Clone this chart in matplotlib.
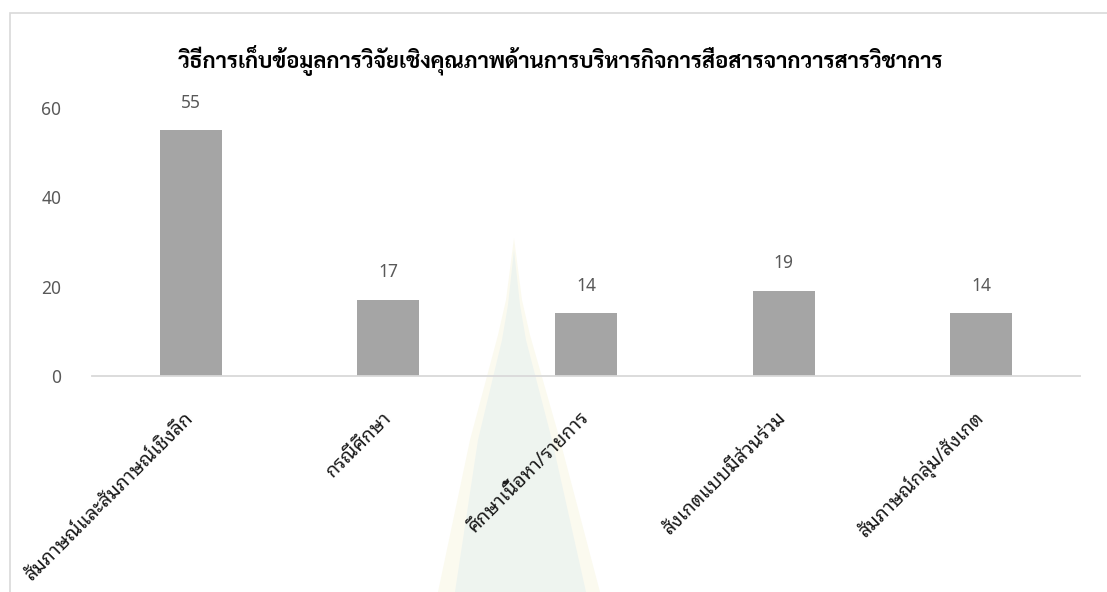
import numpy as np
import matplotlib
matplotlib.use("Agg")
import matplotlib.pyplot as plt
from matplotlib.patches import Polygon, Rectangle

categories = ["สัมภาษณ์และสัมภาษณ์เชิงลึก", "กรณีศึกษา", "ศึกษาเนื้อหา/รายการ",
              "สังเกตแบบมีส่วนร่วม", "สัมภาษณ์กลุ่ม/สังเกต"]
counts = [55, 17, 14, 19, 14]
yticks = [0, 20, 40, 60]
title = "วิธีการเก็บข้อมูลการวิจัยเชิงคุณภาพด้านการบริหารกิจการสื่อสารจากวารสารวิชาการ"

plt.rcParams["font.family"] = ["Noto Sans Thai Looped", "DejaVu Sans"]

W, H = 1107, 592
fig = plt.figure(figsize=(W / 100, H / 100), dpi=100)


def px(x0, y0):
    # pixel position from the top-left corner -> figure fraction
    return x0 / W, 1 - y0 / H


# faint spire watermark behind the chart
outer = [(514, 238), (522, 300), (530, 335), (560, 440), (600, 592), (438, 592), (470, 440), (498, 335), (506, 300)]
inner = [(514, 250), (520, 305), (526, 340), (552, 440), (586, 592), (455, 592), (478, 440), (502, 340), (508, 305)]
fig.patches.append(Polygon([px(*p) for p in outer], closed=True, transform=fig.transFigure,
                           facecolor="#fbfaef", edgecolor="none", zorder=-2))
fig.patches.append(Polygon([px(*p) for p in inner], closed=True, transform=fig.transFigure,
                           facecolor="#eef4ef", edgecolor="none", zorder=-2))

# chart frame
fig.patches.append(Rectangle(px(10, 600), 1.2, (600 - 13) / H, transform=fig.transFigure,
                             facecolor="none", edgecolor="#d9d9d9", lw=1.2, zorder=-1))

ax = fig.add_axes([92 / W, 1 - 376 / H, 988 / W, 268 / H])
ax.set_facecolor("none")

x = np.arange(len(categories))
ax.bar(x, counts, width=0.314, color="#a5a5a5", zorder=2)
for xi, v in zip(x, counts):
    ax.annotate(str(v), (xi, v), xytext=(0, 20), textcoords="offset points",
                ha="center", va="center", fontsize=12.5, color="#595959", fontweight="light",
                family=["Noto Sans", "DejaVu Sans"], annotation_clip=False)

ax.set_xlim(-0.5, len(categories) - 0.5)
ax.set_ylim(0, 60)
ax.set_yticks(yticks)
ax.set_yticklabels([str(t) for t in yticks], fontsize=12.5, color="#595959", fontweight="light",
                   family=["Noto Sans", "DejaVu Sans"])
ax.set_xticks(x)
ax.set_xticklabels(categories, rotation=45, ha="right", va="center", rotation_mode="anchor",
                   fontsize=14, fontweight="light", color="#1a1a1a")
ax.tick_params(axis="y", length=0, pad=22)
ax.tick_params(axis="x", length=0, pad=28)
for s in ["top", "right", "left"]:
    ax.spines[s].set_visible(False)
ax.spines["bottom"].set_color("#d9d9d9")
ax.spines["bottom"].set_linewidth(1.3)

# bold title, sized to span the plot width
t = fig.text(*px(560, 60), title, ha="center", va="center", fontsize=14,
             fontweight="bold", color="black", family=["Sarabun", "DejaVu Sans"])
fig.canvas.draw()
w = t.get_window_extent().width
t.set_fontsize(14 * 760 / w)

fig.savefig("out.png", dpi=100)
